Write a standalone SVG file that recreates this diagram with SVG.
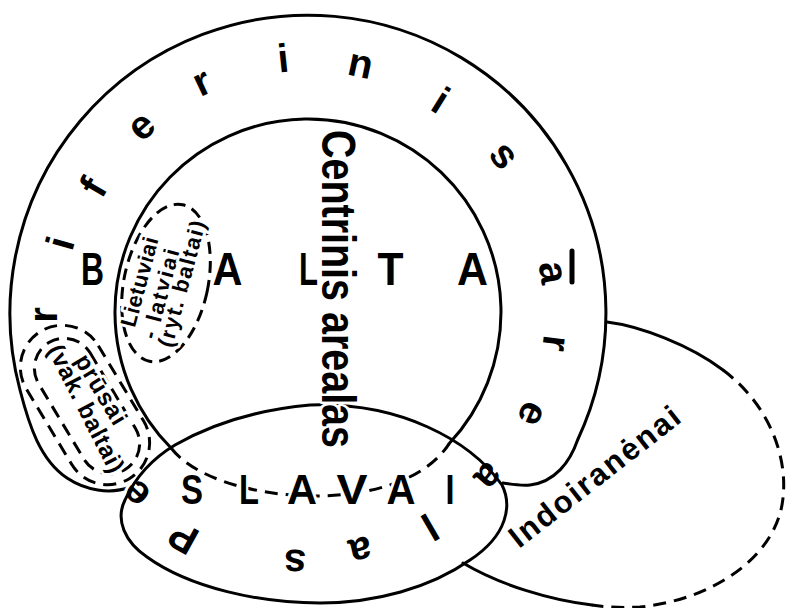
<svg xmlns="http://www.w3.org/2000/svg" width="786" height="608" viewBox="0 0 786 608">
<style>
.ln{fill:none;stroke:#000;stroke-width:3;stroke-linecap:round;stroke-linejoin:round}
.dash{fill:none;stroke:#000;stroke-width:3;stroke-dasharray:13 8}
text{font-family:"Liberation Sans",Arial,sans-serif;font-weight:bold;fill:#000;stroke:#fff;stroke-width:6;paint-order:stroke;stroke-linejoin:round}
.ring{font-size:40px;text-anchor:middle}
.big{font-size:46px;text-anchor:middle}
.sl{font-size:43px;text-anchor:middle}
.small{font-size:22px;text-anchor:middle}
.mid{font-size:24px;text-anchor:middle}
</style>
<rect width="786" height="608" fill="#fff"/>
<g id="indoiranenai">
<path class="ln" d="M607,322 C640,326 690,345 723,370"/>
<path class="dash" d="M723,370 C770,405 790,460 782,505 C772,560 710,600 640,607 C620,608 605,607 592,605"/>
<path class="ln" d="M592,605 C550,600 500,585 463,563"/>
<text transform="translate(519,549) rotate(-38)" style="font-size:31px" textLength="208" lengthAdjust="spacing">Indoiranėnai</text>
</g>
<g id="periferinis">
<path class="ln" d="M130,487 C110,495 85,490 67,478 C40,460 29,425 20,390 A298,298 0 1 1 577.6,440 C570,462 555,482 530,485 C520,486 510,484 503,483"/>
<line class="ln" x1="572" y1="251" x2="572" y2="282" style="stroke-width:5"/>
<text class="ring" transform="translate(183,538) rotate(209)" y="14">P</text>
<text class="ring" transform="translate(138,492) rotate(223)" y="10">e</text>
<text class="ring" transform="translate(47,315) rotate(270)" y="10">r</text>
<text class="ring" transform="translate(60,243) rotate(-74)" y="14">i</text>
<text class="ring" transform="translate(93,187) rotate(-60)" y="14">f</text>
<text class="ring" transform="translate(143,128) rotate(-42)" y="10">e</text>
<text class="ring" transform="translate(203,85) rotate(-25)" y="10">r</text>
<text class="ring" transform="translate(283,58) rotate(-6)" y="14">i</text>
<text class="ring" transform="translate(360,67) rotate(12)" y="10">n</text>
<text class="ring" transform="translate(441,100) rotate(32)" y="14">i</text>
<text class="ring" transform="translate(502,157) rotate(51)" y="10">s</text>
<text class="ring" transform="translate(550,273) rotate(81)" y="10">a</text>
<text class="ring" transform="translate(553,343) rotate(97)" y="10">r</text>
<text class="ring" transform="translate(530,413) rotate(114)" y="10">e</text>
<text class="ring" transform="translate(487,475) rotate(132)" y="10">a</text>
<text class="ring" transform="translate(430,527) rotate(150)" y="14">l</text>
<text class="ring" transform="translate(360,548) rotate(167)" y="10">a</text>
<text class="ring" transform="translate(295,560) rotate(183)" y="10">s</text>
</g>
<g id="slavai-area">
<path class="ln" d="M310,405 C400,402 470,440 502,485 C512,505 508,535 470,560 C430,588 375,603 320,603 C260,603 190,588 147,557 C125,542 115,520 125,500 C135,478 150,460 175,445 C210,425 255,410 310,405 Z"/>
</g>
<g id="centrinis">
<path class="ln" d="M449.2,443.6 A193,193 0 1 0 171.5,448.5"/>
<path class="dash" d="M171.5,448.5 C215,505 400,520 449.2,443.6"/>
<text transform="translate(322,130) rotate(90)" style="font-size:48px" textLength="318" lengthAdjust="spacingAndGlyphs">Centrinis arealas</text>
<text class="big" x="92.5" y="285" textLength="23" lengthAdjust="spacingAndGlyphs">B</text>
<text class="big" x="227.5" y="285" textLength="30" lengthAdjust="spacingAndGlyphs">A</text>
<text class="big" x="308.5" y="285" textLength="19" lengthAdjust="spacingAndGlyphs">L</text>
<text class="big" x="390.5" y="285" textLength="26" lengthAdjust="spacingAndGlyphs">T</text>
<text class="big" x="472.5" y="285" textLength="31" lengthAdjust="spacingAndGlyphs">A</text>
</g>
<g id="slavai">
<text class="sl" x="192" y="504" textLength="22" lengthAdjust="spacingAndGlyphs">S</text>
<text class="sl" x="249" y="504" textLength="20" lengthAdjust="spacingAndGlyphs">L</text>
<text class="sl" x="302" y="504" textLength="30" lengthAdjust="spacingAndGlyphs">A</text>
<text class="sl" x="352" y="504" textLength="31" lengthAdjust="spacingAndGlyphs">V</text>
<text class="sl" x="401" y="504" textLength="29" lengthAdjust="spacingAndGlyphs">A</text>
<text class="sl" x="450" y="504" textLength="9" lengthAdjust="spacingAndGlyphs">I</text>
</g>
<g id="lietuviai">
<ellipse class="dash" cx="166" cy="283" rx="42" ry="80" transform="rotate(12 166 283)" style="stroke-dasharray:12 7"/>
<text class="small" transform="translate(140,282) rotate(-75)" y="7" textLength="92">Lietuviai</text>
<text class="small" transform="translate(161,294) rotate(-75)" y="7" textLength="92">- latviai</text>
<text class="small" transform="translate(182,284) rotate(-75)" y="7" textLength="130">(ryt. baltai)</text>
</g>
<g id="prusai">
<rect class="dash" x="-86" y="-42" width="172" height="84" rx="42" transform="translate(85,405) rotate(59)"/>
<rect class="dash" x="-74" y="-30" width="148" height="60" rx="30" transform="translate(87,406) rotate(59)"/>
<text class="mid" transform="translate(100,390) rotate(59)" y="7" textLength="78">prūsai</text>
<text class="mid" transform="translate(85,409) rotate(63)" y="7" textLength="140">(vak. baltai)</text>
</g>
</svg>
